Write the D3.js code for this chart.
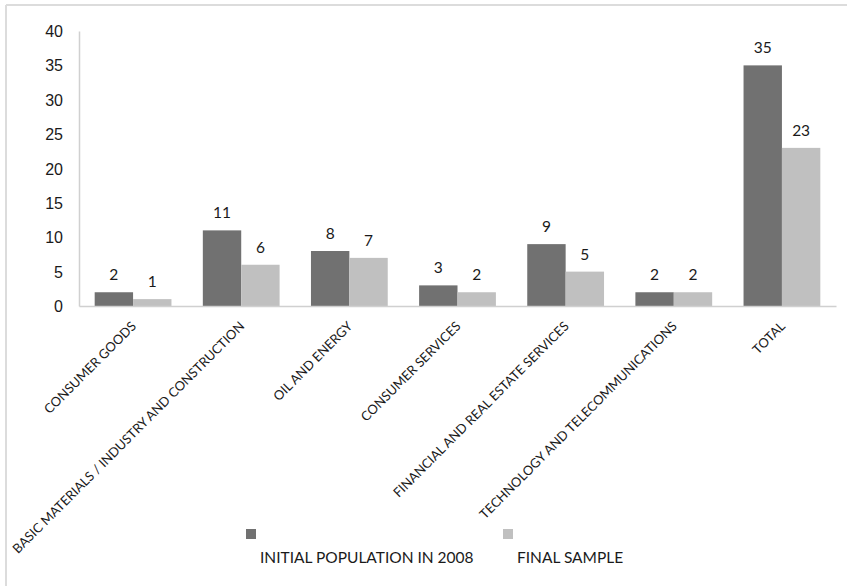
<!DOCTYPE html>
<html>
<head>
<meta charset="utf-8">
<script src="https://cdn.jsdelivr.net/npm/d3@7"></script>
<style>
  body { margin: 0; background: #fff; }
  svg { display: block; font-family: Lato, "Open Sans", sans-serif; }
  .tick-label { font-size: 16px; fill: #1a1a1a; }
  .cat-label { font-size: 13px; fill: #1a1a1a; }
  .value-label { font-size: 15.5px; fill: #1a1a1a; }
  .legend-text { font-size: 15.5px; fill: #1a1a1a; }
</style>
</head>
<body>
<div id="chart"></div>
<script>
// data
const categories = [
  "CONSUMER GOODS",
  "BASIC MATERIALS / INDUSTRY AND CONSTRUCTION",
  "OIL AND ENERGY",
  "CONSUMER SERVICES",
  "FINANCIAL AND REAL ESTATE SERVICES",
  "TECHNOLOGY AND TELECOMMUNICATIONS",
  "TOTAL"
];
const initialPopulation = [2, 11, 8, 3, 9, 2, 35];
const finalSample = [1, 6, 7, 2, 5, 2, 23];
const seriesNames = ["INITIAL POPULATION IN 2008", "FINAL SAMPLE"];
const yTicks = [0, 5, 10, 15, 20, 25, 30, 35, 40];

const width = 847;
const height = 586;
const margin = { top: 31, right: 11, bottom: 280, left: 79 };
const colors = ["#717171", "#c0c0c0"];

const svg = d3.select("#chart").append("svg")
  .attr("width", width)
  .attr("height", height);

// frame (top + left edge like the source)
svg.append("line")
  .attr("x1", 6).attr("x2", width).attr("y1", 5).attr("y2", 5)
  .attr("stroke", "#dcdcdc").attr("stroke-width", 2);
svg.append("line")
  .attr("x1", 6).attr("x2", 6).attr("y1", 5).attr("y2", height)
  .attr("stroke", "#dcdcdc").attr("stroke-width", 2);

// scales
const x0 = d3.scaleBand()
  .domain(categories)
  .range([margin.left, width - margin.right])
  .paddingInner(0.29)
  .paddingOuter(0.145);

const x1 = d3.scaleBand()
  .domain([0, 1])
  .range([0, x0.bandwidth()]);

const y = d3.scaleLinear()
  .domain([0, 40])
  .range([height - margin.bottom, margin.top]);

const rows = categories.map((c, i) => ({
  cat: c,
  vals: [initialPopulation[i], finalSample[i]]
}));

// y axis
const yAxis = svg.append("g")
  .attr("transform", `translate(${margin.left},0)`)
  .call(d3.axisLeft(y).tickValues(yTicks).tickSize(0).tickPadding(16));
yAxis.select(".domain").attr("stroke", "#d0d0d0").attr("stroke-width", 1.5);
yAxis.selectAll("text").attr("class", "tick-label").attr("dy", "0.35em");

// bars
const groups = svg.selectAll(".group")
  .data(rows)
  .enter()
  .append("g")
  .attr("transform", (d) => `translate(${x0(d.cat)},0)`);

groups.selectAll("rect")
  .data((d) => d.vals)
  .enter()
  .append("rect")
  .attr("x", (d, i) => x1(i))
  .attr("y", (d) => y(d))
  .attr("width", x1.bandwidth())
  .attr("height", (d) => y(0) - y(d))
  .attr("fill", (d, i) => colors[i]);

groups.selectAll(".value-label")
  .data((d) => d.vals)
  .enter()
  .append("text")
  .attr("class", "value-label")
  .attr("x", (d, i) => x1(i) + x1.bandwidth() / 2)
  .attr("y", (d) => y(d) - 12)
  .attr("text-anchor", "middle")
  .text((d) => d);

// x axis
const xAxis = svg.append("g")
  .attr("transform", `translate(0,${y(0)})`)
  .call(d3.axisBottom(x0).tickSize(0).tickFormat(""));
xAxis.select(".domain").attr("stroke", "#d0d0d0").attr("stroke-width", 1.5);

svg.selectAll(".cat-label")
  .data(categories)
  .enter()
  .append("text")
  .attr("class", "cat-label")
  .attr("text-anchor", "end")
  .attr("transform", (d) => {
    const cx = x0(d) + x0.bandwidth() / 2 + 4;
    const cy = y(0) + 21;
    return `translate(${cx},${cy}) rotate(-45)`;
  })
  .text((d) => d);

// legend
const legendX = [246, 503];
const legend = svg.selectAll(".legend")
  .data(seriesNames)
  .enter()
  .append("g")
  .attr("transform", (d, i) => `translate(${legendX[i]},529)`);

legend.append("rect")
  .attr("width", 10)
  .attr("height", 10)
  .attr("fill", (d, i) => colors[i]);

legend.append("text")
  .attr("class", "legend-text")
  .attr("x", 14)
  .attr("y", 34)
  .text((d) => d);
</script>
</body>
</html>
